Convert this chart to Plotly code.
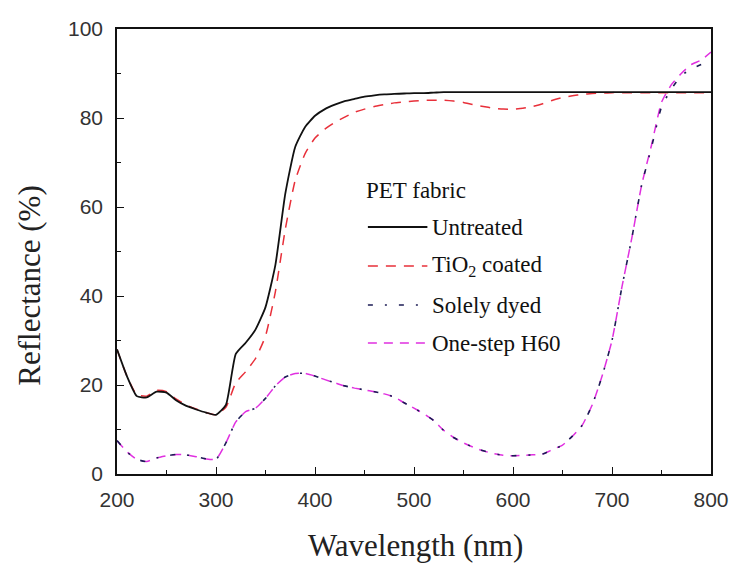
import plotly.graph_objects as go

# Wavelength grid (nm)
wavelength = list(range(200, 801, 10))

# Reflectance (%) of PET fabric samples
untreated = [28, 22, 17.5, 17.2, 18.5, 18.3, 16.5, 15.3, 14.5, 13.8,
             13.3, 15.5, 27, 29.5, 32.5, 37.5, 47, 63, 73.5, 78,
             80.5, 82, 83, 83.8, 84.3, 84.8, 85.1, 85.3, 85.4, 85.5,
             85.6, 85.6, 85.7, 85.8, 85.8, 85.8, 85.8, 85.8, 85.8, 85.8,
             85.8, 85.8, 85.8, 85.8, 85.8, 85.8, 85.8, 85.8, 85.8, 85.8,
             85.8, 85.8, 85.8, 85.8, 85.8, 85.8, 85.8, 85.8, 85.8, 85.8,
             85.8]
tio2_coated = [28, 22, 17.8, 17.5, 18.8, 18.5, 16.8, 15.5, 14.6, 13.8,
               13.3, 15, 20.5, 23, 26, 31, 41, 55, 66, 72,
               75.5, 77.5, 79, 80.2, 81.3, 82, 82.6, 83, 83.4, 83.6,
               83.8, 84, 84, 84, 83.8, 83.5, 83, 82.6, 82.2, 82,
               82, 82.2, 82.6, 83.2, 84, 84.6, 85, 85.3, 85.5, 85.6,
               85.7, 85.7, 85.7, 85.7, 85.7, 85.7, 85.7, 85.7, 85.7, 85.7,
               85.7]
solely_dyed = [7.5, 5, 3.3, 2.8, 3.6, 4.1, 4.4, 4.3, 3.9, 3.4,
               3.3, 7, 11.7, 14, 14.8, 17, 19.8, 21.8, 22.6, 22.6,
               22, 21.2, 20.5, 19.8, 19.3, 18.9, 18.5, 18, 17.3, 16,
               14.8, 13.5, 12, 9.8, 8.2, 7, 6, 5.2, 4.6, 4.2,
               4.1, 4.2, 4.3, 4.5, 5.5, 6.5, 8.5, 11, 15.5, 22,
               30, 42, 53, 65, 73.5, 82.5, 86.5, 89.5, 91, 92,
               93]
one_step_h60 = [7.5, 5, 3.3, 2.8, 3.6, 4.1, 4.4, 4.3, 3.9, 3.4,
                3.3, 7, 11.7, 14, 14.8, 17, 19.8, 21.8, 22.6, 22.6,
                22, 21.2, 20.5, 19.8, 19.3, 18.9, 18.5, 18, 17.3, 16,
                14.8, 13.5, 12, 9.8, 8.2, 7, 6, 5.2, 4.6, 4.2,
                4.1, 4.2, 4.3, 4.5, 5.5, 6.5, 8.5, 11, 15.5, 22,
                30, 42, 53, 65, 74, 83.5, 87.5, 90, 92, 93,
                94.8]

legend_title = "PET fabric"
series_names = ["Untreated", "TiO<sub>2</sub> coated", "Solely dyed", "One-step H60"]

# Line styles: (colour, width, dash)
styles = {
    "Untreated": ("#111111", 1.8, "solid"),
    "TiO<sub>2</sub> coated": ("#e8303a", 1.5, "10px,8px"),
    "Solely dyed": ("#1c1c55", 1.6, "5px,12px,2px,12px"),
    "One-step H60": ("#e030e0", 1.5, "9px,7px"),
}

data = {
    "Untreated": untreated,
    "TiO<sub>2</sub> coated": tio2_coated,
    "Solely dyed": solely_dyed,
    "One-step H60": one_step_h60,
}

fig = go.Figure()

# Draw order: coloured dashes underneath, dark lines on top
for name in ["One-step H60", "Solely dyed", "TiO<sub>2</sub> coated", "Untreated"]:
    color, width, dash = styles[name]
    fig.add_trace(go.Scatter(
        x=wavelength, y=data[name], mode="lines", name=name,
        line=dict(color=color, width=width, dash=dash, shape="spline", smoothing=0.5),
        showlegend=False,
    ))

# Legend block drawn in paper coordinates
L, R, T, B = 117, 716, 29, 474
W, H = R - L, B - T

def px(x):
    return (x - L) / W

def py(y):
    return (B - y) / H

serif = "Liberation Serif"
sans = "Liberation Sans"

annotations = [dict(
    text=legend_title, x=px(366), y=py(190), xref="paper", yref="paper",
    xanchor="left", yanchor="middle", showarrow=False,
    font=dict(family=serif, size=23, color="#111"),
)]
shapes = []
rows_y = [227, 266, 305, 343]
for name, yy in zip(series_names, rows_y):
    color, width, dash = styles[name]
    shapes.append(dict(
        type="line", xref="paper", yref="paper",
        x0=px(370), x1=px(430), y0=py(yy), y1=py(yy),
        line=dict(color=color, width=width, dash=dash),
    ))
    annotations.append(dict(
        text=name, x=px(433), y=py(yy), xref="paper", yref="paper",
        xanchor="left", yanchor="middle", showarrow=False,
        font=dict(family=serif, size=23, color="#111"),
    ))

# Axis titles
annotations.append(dict(
    text="Wavelength (nm)", x=px(418), y=py(545), xref="paper", yref="paper",
    xanchor="center", yanchor="middle", showarrow=False,
    font=dict(family=serif, size=31, color="#222"),
))
annotations.append(dict(
    text="Reflectance (%)", x=px(28), y=py(285), xref="paper", yref="paper",
    xanchor="center", yanchor="middle", showarrow=False, textangle=-90,
    font=dict(family=serif, size=31, color="#222"),
))

axis_common = dict(
    showgrid=False, zeroline=False,
    showline=True, linecolor="#111", linewidth=1.5, mirror=True,
    ticks="inside", ticklen=7, tickwidth=1.3, tickcolor="#111",
    tickfont=dict(family=sans, size=21, color="#333"),
)

fig.update_layout(
    width=741, height=563,
    margin=dict(l=L, r=741 - R, t=T, b=563 - B),
    paper_bgcolor="white", plot_bgcolor="white",
    font=dict(family=serif),
    xaxis=dict(range=[200, 800], dtick=100, tick0=200,
               minor=dict(ticks="inside", ticklen=4, dtick=50, tickcolor="#111", tickwidth=1.2),
               ticklabelstandoff=6, **axis_common),
    yaxis=dict(range=[0, 100], dtick=20, tick0=0,
               minor=dict(ticks="inside", ticklen=4, dtick=10, tickcolor="#111", tickwidth=1.2),
               ticklabelstandoff=8, **axis_common),
    annotations=annotations,
    shapes=shapes,
    showlegend=False,
)

fig.write_html("out.html")
